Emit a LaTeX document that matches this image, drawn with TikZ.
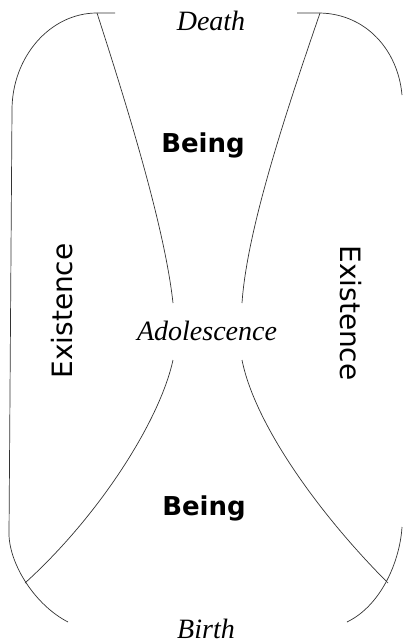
\documentclass[tikz,border=0pt]{standalone}
\usepackage{fontspec}
\setmainfont{Liberation Serif}
\newfontfamily\handfont{DejaVu Sans}
\usetikzlibrary{positioning}

\begin{document}
\begin{tikzpicture}[x=1pt, y=-1pt,
  rim/.style={line width=0.7pt, black!80},
  stagetxt/.style={font=\fontsize{28}{30}\selectfont\itshape, anchor=base, inner sep=0pt},
  beingtxt/.style={font=\fontsize{26}{28}\selectfont\handfont\bfseries, anchor=base, inner sep=0pt},
  existtxt/.style={font=\fontsize{28}{30}\selectfont\handfont, anchor=base, inner sep=0pt}]

  \useasboundingbox (0,0) rectangle (402,643);

  %% Corner and gap points
  \coordinate (tl) at (97,13);
  \coordinate (tr) at (320,13);
  \coordinate (bl) at (25,583);
  \coordinate (br) at (388,583);
  \coordinate (ltop) at (173,303);
  \coordinate (lbot) at (173,360);
  \coordinate (rtop) at (242,303);
  \coordinate (rbot) at (242,360);

  %% Outer rim: left half, and the two right arcs (its side runs off the page)
  \draw[rim] (115,13) -- (tl) .. controls (50,13) and (12,57) .. (12,110)
    -- (9,535) .. controls (10,565) and (35,605) .. (68,622);
  \draw[rim] (297,13) -- (tr) .. controls (366,14) and (398,50) .. (402,95);
  \draw[rim] (402,527) .. controls (400,560) and (382,605) .. (347,622);

  %% Inner curves: Being above and below Adolescence
  \draw[rim] (tl) .. controls (130,115) and (165,230) .. (ltop);
  \draw[rim] (tr) .. controls (285,115) and (247,230) .. (rtop);
  \draw[rim] (lbot) .. controls (160,420) and (100,515) .. (bl);
  \draw[rim] (rbot) .. controls (255,425) and (320,515) .. (br);

  %% Labels
  \node[stagetxt] (death) at (211,30) {Death};
  \node[stagetxt] (adol) at (207,340) {Adolescence};
  \node[stagetxt] (birth) at (206,638) {Birth};
  \node[beingtxt] (beingtop) at (203,152) {Being};
  \node[beingtxt] (beingbot) at (204,515) {Being};
  \node[existtxt, rotate=90] (existleft) at (72,311) {Existence};
  \node[existtxt, rotate=-90] (existright) at (340,313) {Existence};

\end{tikzpicture}
\end{document}
